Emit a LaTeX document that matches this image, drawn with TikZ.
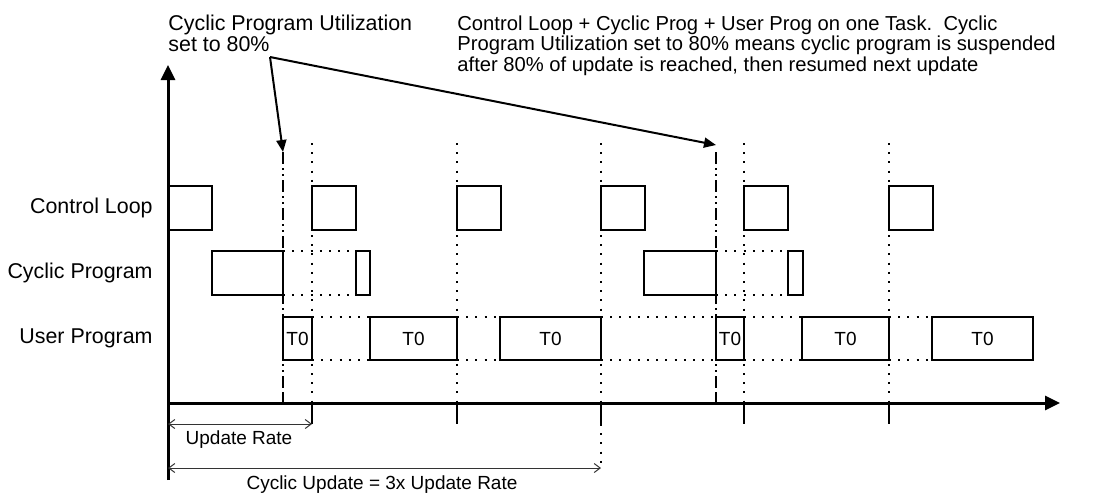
\documentclass[tikz,border=0pt]{standalone}
\usepackage{fontspec}
\setmainfont{Liberation Sans}
\usetikzlibrary{arrows.meta}
\begin{document}
\begin{tikzpicture}[x=0.5pt,y=-0.5pt,
  task/.style={line width=1.2pt},
  gap/.style={line width=1pt,dash pattern=on 1pt off 3.6pt},
  limit/.style={line width=1.2pt,dash pattern=on 6pt off 2pt on 1pt off 2pt on 1pt off 2pt},
  span/.style={line width=0.5pt,black!80,{Straight Barb[length=3pt,width=4.5pt]}-{Straight Barb[length=3pt,width=4.5pt]}},
  pointer/.style={line width=1pt,-{Triangle[length=6pt,width=5pt]}},
  axis/.style={line width=1.5pt,-{Triangle[length=7.5pt,width=7pt]}},
  row/.style={anchor=east,inner sep=0pt,font=\fontsize{10.7}{12}\selectfont},
  small/.style={inner sep=0pt,font=\fontsize{9.5}{11}\selectfont},
  note/.style={anchor=base west,align=left,inner sep=0pt}]
\useasboundingbox (0,0) rectangle (1102,495);
\node[note,font=\fontsize{10.7}{10.25}\selectfont] (util) at (168,51) {Cyclic Program Utilization\\set to 80\%};
\node[note,font=\fontsize{10.1}{10.25}\selectfont] (expl) at (457,71) {Control Loop + Cyclic Prog + User Prog on one Task.\ \ Cyclic\\Program Utilization set to 80\% means cyclic program is suspended\\after 80\% of update is reached, then resumed next update};
\node[row] (cl) at (153,208) {Control Loop};
\node[row] (cp) at (153,273) {Cyclic Program};
\node[row] (up) at (153,338.5) {User Program};
\coordinate (ybot) at (168,480);
\coordinate (ytop) at (168,65);
\coordinate (xbeg) at (168,403);
\coordinate (xend) at (1060,403);
\foreach \x in {312,457,601,744,889} \draw[gap] (\x,143) -- (\x,403);
\draw[gap] (601,424) -- (601,468);
\foreach \a/\b in {283/356,716/788} {
  \draw[gap] (\a,251) -- (\b,251);
  \draw[gap] (\a,295) -- (\b,295);
}
\foreach \a/\b in {312/370,457/500,601/716,744/802,889/932} {
  \draw[gap] (\a,317) -- (\b,317);
  \draw[gap] (\a,360) -- (\b,360);
}
\foreach \x in {283,716} {
  \draw[limit] (\x,152) -- (\x,393);
  \draw[line width=1.2pt] (\x,393) -- (\x,403);
}
\foreach \x in {168,312,457,601,744,889} \draw[task] (\x,186) rectangle +(44,44);
\foreach \a/\b in {212/283,356/370,644/716,788/803} \draw[task] (\a,251) rectangle (\b,295);
\foreach \a/\b [count=\i] in {283/312,370/457,500/601,716/744,802/889,932/1033} {
  \draw[task] (\a,317) rectangle (\b,360);
  \node[small] (t\i) at ({(\a+\b)/2},338.5) {T0};
}
\draw[axis] (ybot) -- (ytop);
\draw[axis] (xbeg) -- (xend);
\foreach \x in {312,457,601,744,889} \draw[line width=1.2pt] (\x,403) -- (\x,424);
\draw[span] (168,424) -- (312,424);
\node[small] (ur) at (239,440) {Update Rate};
\draw[span] (168,468) -- (601,468);
\node[small] (cu) at (382,485) {Cyclic Update = 3x Update Rate};
\coordinate (src) at (270,57);
\coordinate (limA) at (283,152);
\coordinate (limB) at (716,145);
\draw[pointer] (src) -- (limA);
\draw[pointer] (src) -- (limB);
\end{tikzpicture}
\end{document}
